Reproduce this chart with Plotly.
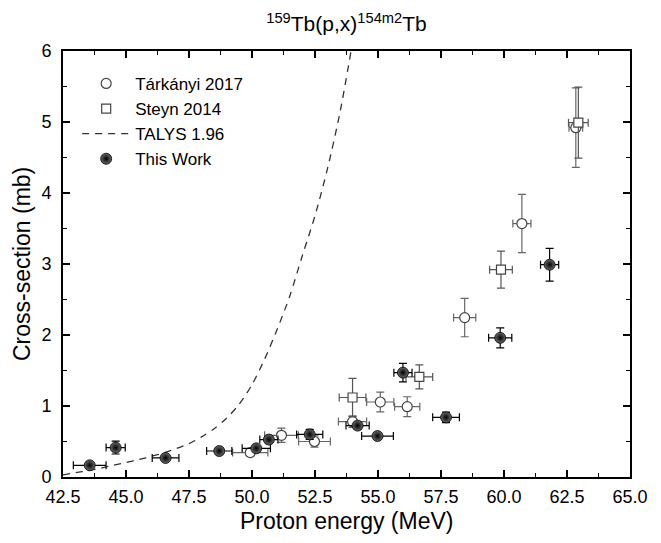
import plotly.graph_objects as go

# This Work
tw_e = [43.56, 44.59, 46.57, 48.70, 50.17, 50.67, 52.29, 54.19, 54.98, 55.99, 57.70, 59.85, 61.81]
tw_de = [0.65, 0.38, 0.53, 0.50, 0.56, 0.36, 0.52, 0.46, 0.63, 0.36, 0.53, 0.46, 0.36]
tw_cs = [0.165, 0.414, 0.268, 0.366, 0.404, 0.527, 0.600, 0.724, 0.577, 1.47, 0.84, 1.96, 2.99]
tw_dcs = [0.03, 0.09, 0.04, 0.03, 0.04, 0.05, 0.07, 0.05, 0.04, 0.13, 0.075, 0.14, 0.23]

# Tárkányi 2017
ta_e = [49.93, 51.17, 52.48, 53.99, 55.09, 56.16, 58.44, 60.71, 62.85]
ta_de = [0.70, 0.67, 0.63, 0.56, 0.54, 0.50, 0.44, 0.36, 0.27]
ta_cs = [0.344, 0.587, 0.50, 0.78, 1.056, 0.99, 2.245, 3.57, 4.92]
ta_dcs = [0.05, 0.10, 0.08, 0.08, 0.14, 0.14, 0.27, 0.41, 0.56]

# Steyn 2014
st_e = [53.99, 56.64, 59.88, 62.95]
st_de = [0.53, 0.53, 0.45, 0.39]
st_cs = [1.12, 1.41, 2.92, 4.99]
st_dcs = [0.27, 0.17, 0.26, 0.50]

# TALYS 1.96
talys_e = [42.5, 43.0, 43.5, 44.0, 44.5, 45.0, 45.5, 46.0, 46.5, 47.0, 47.5, 48.0, 48.5,
           49.0, 49.5, 50.0, 50.5, 51.0, 51.5, 52.0, 52.5, 53.0, 53.5, 53.93]
talys_cs = [0.03, 0.06, 0.09, 0.125, 0.165, 0.205, 0.245, 0.29, 0.34, 0.40, 0.47, 0.565, 0.68,
            0.83, 1.03, 1.30, 1.66, 2.08, 2.55, 3.12, 3.68, 4.35, 5.15, 6.0]

x_ticks = [42.5, 45.0, 47.5, 50.0, 52.5, 55.0, 57.5, 60.0, 62.5, 65.0]
x_ticklabels = ["42.5", "45.0", "47.5", "50.0", "52.5", "55.0", "57.5", "60.0", "62.5", "65.0"]
y_ticks = [0, 1, 2, 3, 4, 5, 6]

FONT = "Arial, Liberation Sans, sans-serif"
# page body has an 8px margin; figure sized so the plot box lands where the reference has it
W, H = 653, 535
ML, MR, MT, MB = 55, 31, 43, 66
PW, PH = W - ML - MR, H - MT - MB

fig = go.Figure()

fig.add_trace(go.Scatter(
    x=ta_e, y=ta_cs, mode="markers", name="Tárkányi 2017",
    marker=dict(symbol="circle", size=10, color="white", line=dict(width=1.2, color="#444")),
    error_x=dict(type="data", array=ta_de, color="#666", thickness=1.2, width=4),
    error_y=dict(type="data", array=ta_dcs, color="#666", thickness=1.2, width=4),
    legendrank=1,
))
fig.add_trace(go.Scatter(
    x=st_e, y=st_cs, mode="markers", name="Steyn 2014",
    marker=dict(symbol="square", size=9, color="white", line=dict(width=1.2, color="#444")),
    error_x=dict(type="data", array=st_de, color="#555", thickness=1.2, width=4),
    error_y=dict(type="data", array=st_dcs, color="#555", thickness=1.2, width=4),
    legendrank=2,
))
fig.add_trace(go.Scatter(
    x=talys_e, y=talys_cs, mode="lines", name="TALYS 1.96",
    line=dict(color="#333", width=1.3, dash="7px,6px", shape="spline", smoothing=0.8),
    legendrank=3,
))
fig.add_trace(go.Scatter(
    x=tw_e, y=tw_cs, mode="markers", name="This Work",
    marker=dict(symbol="circle", size=11, color="#6a6a6a",
                gradient=dict(type="radial", color="black"),
                line=dict(width=0.8, color="black")),
    error_x=dict(type="data", array=tw_de, color="black", thickness=1.2, width=4),
    error_y=dict(type="data", array=tw_dcs, color="black", thickness=1.2, width=4),
    legendrank=4,
))

axis_common = dict(
    showline=True, linecolor="black", linewidth=1.6, mirror="allticks",
    ticks="inside", ticklen=7, tickwidth=1.6, tickcolor="black",
    showgrid=False, zeroline=False, automargin=False,
    tickfont=dict(family=FONT, size=18, color="black"),
)

fig.update_layout(
    width=W, height=H,
    margin=dict(l=ML, r=MR, t=MT, b=MB),
    paper_bgcolor="white", plot_bgcolor="white",
    font=dict(family=FONT, color="black"),
    title=dict(text="<sup>159</sup>Tb(p,x)<sup>154m2</sup>Tb", x=0.5, xanchor="center",
               xref="paper", y=1 - 16 / H, yref="container", yanchor="middle",
               font=dict(family=FONT, size=21, color="black")),
    xaxis=dict(range=[42.5, 65.0], tickvals=x_ticks, ticktext=x_ticklabels,
               minor=dict(dtick=1.25, tick0=42.5, ticks="inside", ticklen=4, tickwidth=1.3, tickcolor="black"),
               ticklabelstandoff=3,
               **axis_common),
    yaxis=dict(range=[0, 6], tickvals=y_ticks,
               minor=dict(dtick=0.5, tick0=0, ticks="inside", ticklen=4, tickwidth=1.3, tickcolor="black"),
               ticklabelstandoff=6,
               **axis_common),
    legend=dict(x=0.025, y=0.965, xanchor="left", yanchor="top", bgcolor="rgba(0,0,0,0)",
                font=dict(family=FONT, size=17, color="black"), tracegroupgap=0,
                itemwidth=48),
    showlegend=True,
    annotations=[
        dict(text="Proton energy (MeV)", xref="paper", yref="paper", x=0.5, y=-(513 - (H - MB)) / PH,
             xanchor="center", yanchor="middle", showarrow=False, font=dict(family=FONT, size=23, color="black")),
        dict(text="Cross-section (mb)", xref="paper", yref="paper", x=-(ML - 14) / PW, y=0.5,
             xanchor="center", yanchor="middle", textangle=-90, showarrow=False,
             font=dict(family=FONT, size=23, color="black")),
    ],
)

fig.write_html("out.html")
